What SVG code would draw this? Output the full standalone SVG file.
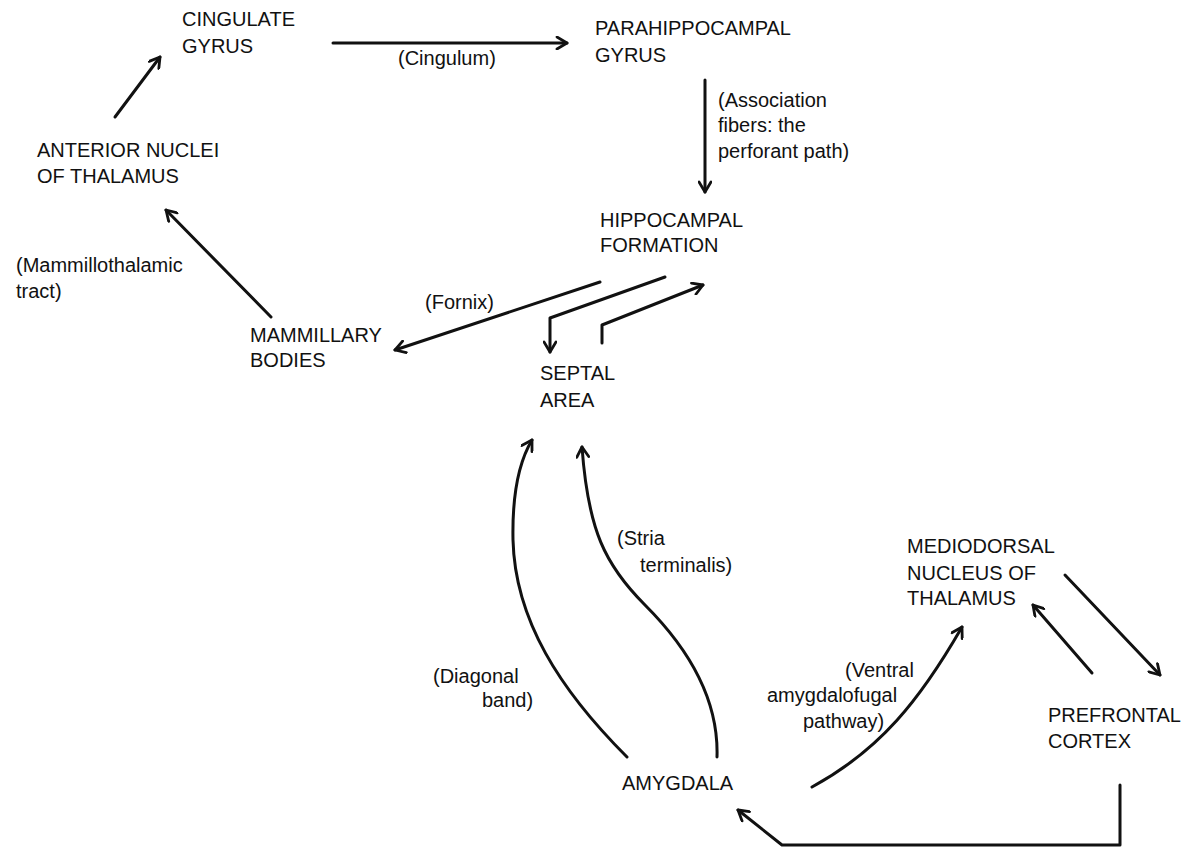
<svg xmlns="http://www.w3.org/2000/svg" width="1192" height="848" viewBox="0 0 1192 848">
<defs>
<style>
text{font-family:"Liberation Sans",Arial,sans-serif;font-size:20px;fill:#111}
.c{fill:none;stroke:#111;stroke-width:3;stroke-linecap:round;stroke-linejoin:round}
.a{marker-end:url(#ah)}
</style>
<marker id="ah" viewBox="0 0 14 14" markerWidth="14" markerHeight="14" refX="12" refY="7" orient="auto" markerUnits="userSpaceOnUse">
<path d="M2,1 L12,7 L2,13" fill="none" stroke="#111" stroke-width="2.8" stroke-linecap="round" stroke-linejoin="round"/>
</marker>
</defs>
<rect width="1192" height="848" fill="#fff"/>
<g id="cingulate"><text x="182" y="26">CINGULATE</text><text x="182" y="53">GYRUS</text></g>
<g id="parahippocampal"><text x="595" y="35">PARAHIPPOCAMPAL</text><text x="595" y="62">GYRUS</text></g>
<g id="anterior"><text x="37" y="157">ANTERIOR NUCLEI</text><text x="37" y="183">OF THALAMUS</text></g>
<g id="hippocampal"><text x="600" y="227">HIPPOCAMPAL</text><text x="600" y="252">FORMATION</text></g>
<g id="mammillary"><text x="250" y="342">MAMMILLARY</text><text x="250" y="367">BODIES</text></g>
<g id="septal"><text x="540" y="380">SEPTAL</text><text x="540" y="407">AREA</text></g>
<g id="mediodorsal"><text x="907" y="553">MEDIODORSAL</text><text x="907" y="580">NUCLEUS OF</text><text x="907" y="605">THALAMUS</text></g>
<g id="prefrontal"><text x="1048" y="722">PREFRONTAL</text><text x="1048" y="748">CORTEX</text></g>
<g id="amygdala"><text x="622" y="790">AMYGDALA</text></g>
<g id="connectors">
<path class="c a" d="M333,43 L567,43"/>
<path class="c a" d="M705,80 L705,192"/>
<path class="c a" d="M115,117 L160,57"/>
<path class="c a" d="M271,317 L166,210"/>
<path class="c a" d="M600,282 L395,350"/>
<path class="c a" d="M665,277 L550,318 L550,352"/>
<path class="c a" d="M602,343 L602,325 L703,285"/>
<path class="c a" d="M627,757 C560,690 515,620 513,540 C512,490 520,460 532,440"/>
<path class="c a" d="M717,757 C719,695 685,645 645,605 S588,530 582,447"/>
<path class="c a" d="M812,787 C880,750 920,700 962,627"/>
<path class="c a" d="M1065,575 L1160,675"/>
<path class="c a" d="M1092,673 L1033,605"/>
<path class="c a" d="M1120,785 L1120,845 L782,845 L738,810"/>
</g>
<g id="labels">
<text x="398" y="65">(Cingulum)</text>
<text x="718" y="107">(Association</text>
<text x="718" y="132">fibers: the</text>
<text x="718" y="158">perforant path)</text>
<text x="16" y="272">(Mammillothalamic</text>
<text x="16" y="298">tract)</text>
<text x="425" y="309">(Fornix)</text>
<text x="617" y="545">(Stria</text>
<text x="640" y="572">terminalis)</text>
<text x="433" y="683">(Diagonal</text>
<text x="482" y="707">band)</text>
<text x="845" y="677">(Ventral</text>
<text x="767" y="702">amygdalofugal</text>
<text x="803" y="728">pathway)</text>
</g>
</svg>
